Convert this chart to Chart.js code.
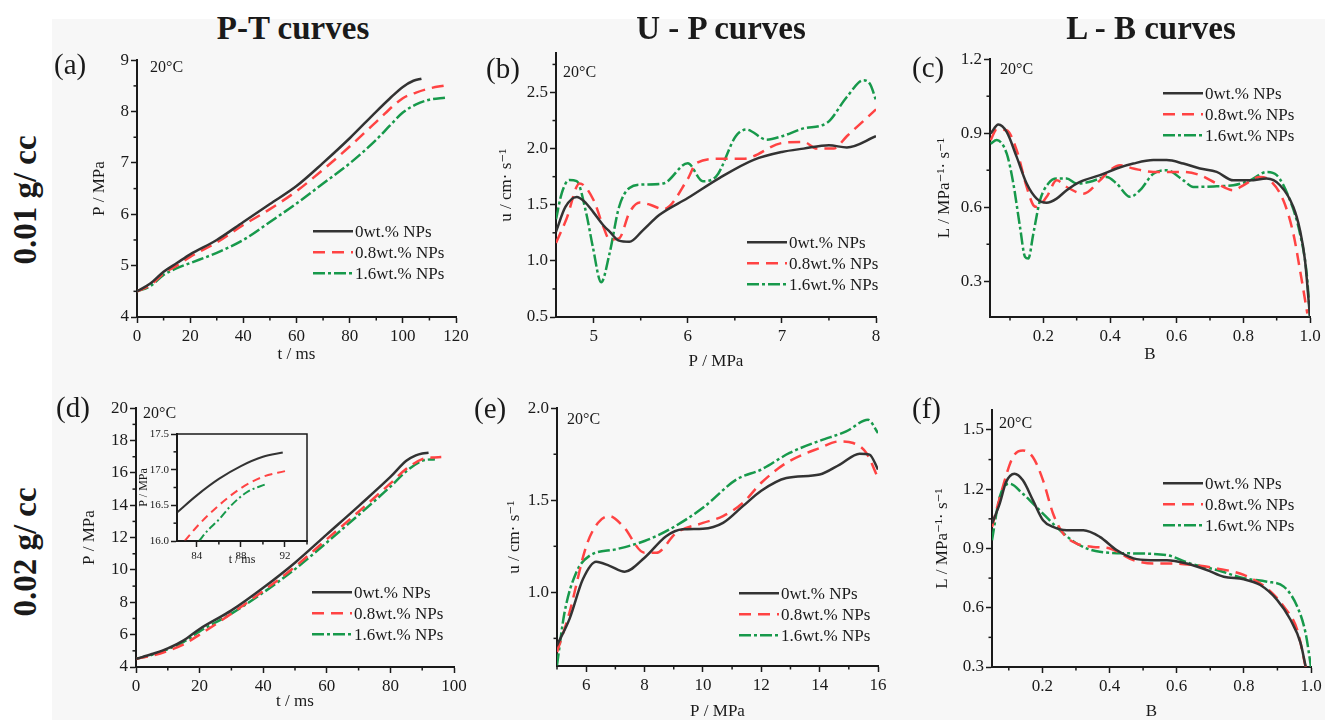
<!DOCTYPE html>
<html>
<head>
<meta charset="utf-8">
<script src="https://cdn.jsdelivr.net/npm/chart.js@4.4.1/dist/chart.umd.min.js"></script>
<style>
  body { margin: 0; width: 1325px; height: 720px; background: #fff; position: relative; overflow: hidden;
         font-family: 'Liberation Serif', serif; color: #1a1a1a; }
  .bg { position: absolute; left: 52px; top: 19px; right: 0; bottom: 0; background: #f7f7f7; }
  .t { position: absolute; white-space: nowrap; line-height: 1; z-index: 2; }
  .c { transform: translate(-50%, -50%); }
  .l { transform: translateY(-50%); }
  .big { font-size: 33px; font-weight: bold; }
  .pl { font-size: 29px; }
  .tc { font-size: 16px; }
  canvas { position: absolute; }
</style>
</head>
<body>
<div class="bg"></div>

<div class="t c big" style="left:293px;top:28px">P-T curves</div>
<div class="t c big" style="left:721px;top:28px">U - P curves</div>
<div class="t c big" style="left:1151px;top:28px">L - B curves</div>
<div class="t big" style="left:25px;top:200px;transform:translate(-50%,-50%) rotate(-90deg)">0.01 g/ cc</div>
<div class="t big" style="left:25px;top:552px;transform:translate(-50%,-50%) rotate(-90deg)">0.02 g/ cc</div>

<div class="t l pl" style="left:54px;top:64px">(a)</div>
<div class="t l pl" style="left:486px;top:68px">(b)</div>
<div class="t l pl" style="left:912px;top:67px">(c)</div>
<div class="t l pl" style="left:56px;top:407px">(d)</div>
<div class="t l pl" style="left:474px;top:408px">(e)</div>
<div class="t l pl" style="left:912px;top:408px">(f)</div>

<div class="t l tc" style="left:150px;top:67px">20°C</div>
<div class="t l tc" style="left:563px;top:72px">20°C</div>
<div class="t l tc" style="left:1000px;top:69px">20°C</div>
<div class="t l tc" style="left:143px;top:413px">20°C</div>
<div class="t l tc" style="left:567px;top:419px">20°C</div>
<div class="t l tc" style="left:999px;top:423px">20°C</div>

<script>
// -> Serien
const seriesNames = ['0wt.% NPs', '0.8wt.% NPs', '1.6wt.% NPs'];

// (a) P-T, 0.01 g/cc
const aT0 = [0, 5, 10, 15, 20, 30, 40, 50, 60, 70, 80, 90, 95, 100, 104, 107];
const aP0 = [4.5, 4.65, 4.88, 5.05, 5.22, 5.5, 5.85, 6.2, 6.55, 7.0, 7.48, 8.0, 8.25, 8.48, 8.6, 8.64];
const aT1 = [0, 5, 10, 15, 20, 30, 40, 50, 60, 70, 80, 90, 100, 105, 110, 116];
const aP1 = [4.5, 4.62, 4.85, 5.0, 5.17, 5.45, 5.79, 6.1, 6.45, 6.87, 7.32, 7.8, 8.26, 8.37, 8.45, 8.51];
const aT2 = [0, 5, 10, 15, 20, 30, 40, 50, 60, 70, 80, 90, 95, 100, 105, 110, 116];
const aP2 = [4.5, 4.6, 4.82, 4.95, 5.05, 5.25, 5.5, 5.85, 6.21, 6.6, 6.99, 7.45, 7.72, 7.98, 8.14, 8.23, 8.27];

// (b) U-P, 0.01 g/cc
const bP0 = [4.6, 4.7, 4.82, 4.9, 5.0, 5.1, 5.17, 5.27, 5.38, 5.52, 5.7, 6.0, 6.34, 6.7, 7.0, 7.23, 7.5, 7.69, 8.0];
const bU0 = [1.26, 1.48, 1.57, 1.53, 1.43, 1.32, 1.26, 1.18, 1.17, 1.27, 1.41, 1.56, 1.74, 1.9, 1.97, 2.0, 2.03, 2.01, 2.11];
const bP1 = [4.6, 4.71, 4.85, 5.0, 5.1, 5.17, 5.27, 5.38, 5.49, 5.6, 5.74, 6.0, 6.09, 6.34, 6.59, 7.0, 7.23, 7.37, 7.55, 7.69, 8.0];
const bU1 = [1.16, 1.37, 1.69, 1.54, 1.31, 1.19, 1.2, 1.43, 1.52, 1.5, 1.46, 1.73, 1.87, 1.91, 1.91, 2.05, 2.06, 2.0, 2.0, 2.11, 2.35];
const bP2 = [4.6, 4.66, 4.74, 4.82, 4.92, 4.99, 5.08, 5.17, 5.27, 5.38, 5.52, 5.74, 6.0, 6.16, 6.3, 6.51, 6.62, 6.84, 7.0, 7.23, 7.48, 7.69, 7.87, 7.94, 8.0];
const bU2 = [1.37, 1.6, 1.72, 1.71, 1.43, 1.13, 0.81, 1.07, 1.48, 1.65, 1.68, 1.69, 1.87, 1.71, 1.75, 2.11, 2.17, 2.08, 2.11, 2.18, 2.23, 2.46, 2.61, 2.57, 2.43];

// (c) L-B, 0.01 g/cc
const cB0 = [0.042, 0.065, 0.09, 0.12, 0.15, 0.18, 0.21, 0.24, 0.27, 0.31, 0.37, 0.42, 0.47, 0.53, 0.57, 0.62, 0.67, 0.72, 0.77, 0.82, 0.87, 0.91, 0.95, 0.97, 0.985, 1.0];
const cL0 = [0.899, 0.935, 0.905, 0.804, 0.696, 0.635, 0.618, 0.635, 0.669, 0.703, 0.73, 0.757, 0.777, 0.791, 0.791, 0.777, 0.757, 0.743, 0.709, 0.709, 0.716, 0.689, 0.601, 0.507, 0.385, 0.155];
const cB1 = [0.042, 0.06, 0.09, 0.12, 0.15, 0.17, 0.18, 0.21, 0.24, 0.27, 0.32, 0.37, 0.4, 0.43, 0.47, 0.53, 0.57, 0.62, 0.67, 0.72, 0.77, 0.8, 0.85, 0.88, 0.92, 0.95, 0.97, 0.992];
const cL1 = [0.872, 0.915, 0.912, 0.831, 0.682, 0.608, 0.601, 0.642, 0.709, 0.682, 0.655, 0.709, 0.75, 0.77, 0.757, 0.743, 0.743, 0.743, 0.73, 0.696, 0.669, 0.689, 0.723, 0.709, 0.628, 0.493, 0.345, 0.169];
const cB2 = [0.042, 0.06, 0.09, 0.11, 0.13, 0.145, 0.155, 0.17, 0.19, 0.215, 0.24, 0.27, 0.3, 0.34, 0.39, 0.42, 0.46, 0.49, 0.53, 0.57, 0.62, 0.65, 0.72, 0.77, 0.82, 0.87, 0.9, 0.94, 0.97, 0.99, 1.0];
const cL2 = [0.858, 0.872, 0.818, 0.696, 0.52, 0.399, 0.392, 0.493, 0.628, 0.696, 0.716, 0.716, 0.696, 0.703, 0.723, 0.696, 0.642, 0.669, 0.736, 0.75, 0.709, 0.682, 0.685, 0.689, 0.709, 0.743, 0.73, 0.628, 0.493, 0.331, 0.155];

// (d) P-T, 0.02 g/cc
const dT0 = [0, 5, 10, 15, 20, 30, 40, 50, 60, 70, 80, 85, 88, 90, 92];
const dP0 = [4.5, 4.8, 5.15, 5.65, 6.35, 7.5, 8.9, 10.45, 12.2, 13.95, 15.75, 16.75, 17.08, 17.2, 17.25];
const dT1 = [0, 5, 10, 15, 20, 30, 40, 50, 60, 70, 80, 85, 90, 93, 96];
const dP1 = [4.5, 4.7, 5.0, 5.4, 6.0, 7.3, 8.7, 10.2, 11.9, 13.6, 15.35, 16.25, 16.85, 16.95, 16.98];
const dT2 = [0, 5, 10, 15, 20, 30, 40, 50, 60, 70, 80, 85, 90, 94];
const dP2 = [4.5, 4.75, 5.1, 5.55, 6.2, 7.3, 8.6, 10.05, 11.7, 13.4, 15.15, 16.1, 16.75, 16.85];

// Inset (d)
const iT0 = [82.2, 84, 86, 88, 90, 91.8];
const iP0 = [16.4, 16.64, 16.87, 17.05, 17.18, 17.24];
const iT1 = [82.9, 84, 86, 88, 90, 92];
const iP1 = [16.0, 16.2, 16.5, 16.74, 16.9, 16.98];
const iT2 = [84.2, 85, 86, 87, 88.5, 90.3];
const iP2 = [16.0, 16.15, 16.3, 16.48, 16.68, 16.8];

// (e) U-P, 0.02 g/cc
const eP0 = [5.0, 5.43, 5.89, 6.34, 6.8, 7.32, 8.0, 8.74, 9.31, 10.0, 10.69, 11.37, 12.0, 12.86, 14.0, 14.69, 15.37, 15.71, 16.0];
const eU0 = [0.712, 0.856, 1.072, 1.166, 1.144, 1.112, 1.188, 1.305, 1.342, 1.345, 1.377, 1.468, 1.552, 1.621, 1.64, 1.694, 1.753, 1.748, 1.667];
const eP1 = [5.0, 5.43, 6.0, 6.4, 6.8, 7.26, 8.0, 8.4, 9.09, 10.0, 10.69, 11.37, 12.0, 12.86, 14.0, 14.69, 15.15, 15.6, 16.0];
const eU1 = [0.676, 0.892, 1.25, 1.377, 1.414, 1.36, 1.215, 1.215, 1.323, 1.377, 1.414, 1.486, 1.595, 1.703, 1.784, 1.82, 1.811, 1.757, 1.622];
const eP2 = [5.0, 5.26, 5.66, 6.11, 7.03, 8.0, 8.86, 10.0, 11.15, 12.0, 12.97, 14.0, 14.91, 15.66, 16.0];
const eU2 = [0.604, 0.892, 1.108, 1.198, 1.234, 1.279, 1.342, 1.459, 1.613, 1.667, 1.757, 1.823, 1.874, 1.937, 1.865];

// (f) L-B, 0.02 g/cc
const fB0 = [0.05, 0.073, 0.092, 0.117, 0.142, 0.172, 0.202, 0.232, 0.272, 0.322, 0.371, 0.421, 0.471, 0.521, 0.571, 0.63, 0.69, 0.74, 0.8, 0.849, 0.899, 0.939, 0.969, 0.984];
const fL0 = [1.026, 1.127, 1.236, 1.278, 1.245, 1.144, 1.043, 1.009, 0.992, 0.992, 0.959, 0.892, 0.85, 0.841, 0.841, 0.824, 0.791, 0.757, 0.744, 0.715, 0.64, 0.539, 0.421, 0.303];
const fB1 = [0.05, 0.082, 0.112, 0.142, 0.172, 0.202, 0.232, 0.262, 0.302, 0.351, 0.401, 0.471, 0.531, 0.59, 0.65, 0.72, 0.8, 0.869, 0.919, 0.959, 0.984];
const fL1 = [1.009, 1.211, 1.362, 1.396, 1.362, 1.245, 1.076, 0.976, 0.925, 0.908, 0.9, 0.841, 0.824, 0.824, 0.816, 0.799, 0.766, 0.698, 0.606, 0.488, 0.3];
const fB2 = [0.05, 0.073, 0.102, 0.142, 0.192, 0.242, 0.302, 0.371, 0.471, 0.571, 0.64, 0.72, 0.8, 0.869, 0.919, 0.959, 0.984, 1.0];
const fL2 = [0.942, 1.161, 1.228, 1.177, 1.093, 1.009, 0.925, 0.883, 0.875, 0.866, 0.824, 0.791, 0.749, 0.732, 0.707, 0.606, 0.471, 0.3];

// -> Tick-Beschriftungen
const aXLabels = ['0', '20', '40', '60', '80', '100', '120'];
const aYLabels = ['4', '5', '6', '7', '8', '9'];
const bXLabels = ['5', '6', '7', '8'];
const bYLabels = ['0.5', '1.0', '1.5', '2.0', '2.5'];
const cXLabels = ['0.2', '0.4', '0.6', '0.8', '1.0'];
const cYLabels = ['0.3', '0.6', '0.9', '1.2'];
const dXLabels = ['0', '20', '40', '60', '80', '100'];
const dYLabels = ['4', '6', '8', '10', '12', '14', '16', '18', '20'];
const iXLabels = ['84', '88', '92'];
const iYLabels = ['16.0', '16.5', '17.0', '17.5'];
const eXLabels = ['6', '8', '10', '12', '14', '16'];
const eYLabels = ['1.0', '1.5', '2.0'];
const fXLabels = ['0.2', '0.4', '0.6', '0.8', '1.0'];
const fYLabels = ['0.3', '0.6', '0.9', '1.2', '1.5'];

// -> Styles
const seriesColors = ['#333333', '#ff4343', '#17994b'];
const INK = '#1a1a1a';

Chart.defaults.font.family = "'Liberation Serif', 'DejaVu Serif', serif";
Chart.defaults.color = INK;
Chart.defaults.animation = false;

// Haupt- und Zwischenticks (Zwischenticks ohne Label)
function buildTicks(labels, min, max) {
  const vals = labels.map(Number);
  const step = (vals[1] - vals[0]) / 2;
  const out = [];
  const k0 = Math.ceil((min - vals[0]) / step - 1e-6);
  for (let k = k0; vals[0] + k * step <= max + 1e-6; k++) {
    const v = +(vals[0] + k * step).toFixed(6);
    const j = vals.findIndex(u => Math.abs(u - v) < 1e-6);
    out.push({ value: v, minor: j < 0, text: j < 0 ? '' : labels[j] });
  }
  return out;
}

const minorTicks = {
  id: 'minorTicks',
  afterDraw(chart) {
    const ctx = chart.ctx;
    ctx.save();
    ctx.strokeStyle = INK;
    ctx.lineWidth = 1.5;
    ['x', 'y'].forEach(id => {
      const sc = chart.scales[id];
      sc.ticks.filter(t => t.minor).forEach(t => {
        const p = sc.getPixelForValue(t.value);
        ctx.beginPath();
        if (id === 'x') { ctx.moveTo(p, sc.top); ctx.lineTo(p, sc.top + 3.5); }
        else { ctx.moveTo(sc.right, p); ctx.lineTo(sc.right - 3.5, p); }
        ctx.stroke();
      });
    });
    ctx.restore();
  }
};

// Legende im Plotbereich
const innerLegend = {
  id: 'innerLegend',
  afterDraw(chart, args, opts) {
    if (!opts.show) return;
    const { ctx, chartArea } = chart;
    ctx.save();
    ctx.font = opts.size + "px 'Liberation Serif', serif";
    ctx.textBaseline = 'middle';
    chart.data.datasets.forEach((ds, i) => {
      const x = chartArea.left + opts.left;
      const y = chartArea.top + opts.top + i * opts.gap;
      ctx.strokeStyle = ds.borderColor;
      ctx.lineWidth = ds.borderWidth;
      ctx.setLineDash(ds.borderDash || []);
      ctx.beginPath();
      ctx.moveTo(x, y);
      ctx.lineTo(x + 40, y);
      ctx.stroke();
      ctx.setLineDash([]);
      ctx.fillStyle = INK;
      ctx.fillText(ds.label, x + 42, y + 1);
    });
    ctx.restore();
  }
};

// Rahmen fürs Inset
const frame = {
  id: 'frame',
  afterDraw(chart, args, opts) {
    if (!opts.show) return;
    const { ctx, chartArea: a } = chart;
    ctx.save();
    ctx.strokeStyle = INK;
    ctx.lineWidth = 1.5;
    ctx.strokeRect(a.left, a.top, a.right - a.left, a.bottom - a.top);
    ctx.restore();
  }
};

function axis(s, pos, size, fsz, tsz, pad) {
  return {
    type: 'linear',
    position: pos,
    min: s.min,
    max: s.max,
    afterBuildTicks: sc => { sc.ticks = buildTicks(s.labels, s.min, s.max); },
    afterFit: sc => { if (pos === 'left') sc.width = size; else sc.height = size; },
    border: { display: true, color: INK, width: 2 },
    grid: {
      display: true, drawOnChartArea: false, drawTicks: true, tickLength: 6, tickWidth: 1.5,
      tickColor: c => (c.tick && c.tick.minor) ? 'rgba(0,0,0,0)' : INK
    },
    ticks: {
      autoSkip: false, maxRotation: 0, padding: pos === 'left' ? 2 : 3, color: INK,
      font: { size: fsz },
      callback: (v, i, t) => t[i].text
    },
    title: {
      display: true, text: s.title, color: INK,
      font: { size: tsz },
      padding: pos === 'left' ? { top: pad, bottom: 0 } : { top: 0, bottom: pad }
    }
  };
}

function makePanel(p) {
  const W = p.W || 80, H = p.H || 60, T = 12, R = 24;
  const fsz = p.fsz || 17, tsz = p.tsz || 17;
  const [l, r, t, b] = p.box;
  const cv = document.createElement('canvas');
  cv.width = r - l + W + R;
  cv.height = b - t + T + H;
  cv.style.left = (l - W) + 'px';
  cv.style.top = (t - T) + 'px';
  document.body.appendChild(cv);

  const lh = tsz * 1.2;
  const padY = Math.max(0, p.y.titleX - (l - W) - lh / 2);
  const padX = Math.max(0, b + H - p.x.titleY - lh / 2);
  const lw = p.lw || 2.5;
  const dashes = p.small ? [[], [8, 5], [8, 3, 2, 3]] : [[], [12, 7], [12, 3, 3, 3]];

  new Chart(cv, {
    type: 'line',
    data: {
      datasets: p.series.map((s, i) => ({
        label: seriesNames[i],
        data: s[0].map((x, k) => ({ x: x, y: s[1][k] })),
        borderColor: seriesColors[i],
        borderWidth: lw,
        borderDash: dashes[i],
        pointRadius: 0,
        cubicInterpolationMode: 'monotone',
        fill: false
      }))
    },
    options: {
      responsive: false,
      layout: { padding: { left: 0, top: T, right: R, bottom: 0 } },
      plugins: {
        legend: { display: false },
        tooltip: { enabled: false },
        innerLegend: p.legend ? Object.assign({ show: true, gap: 21, size: 17 }, p.legend) : { show: false },
        frame: { show: !!p.small }
      },
      scales: {
        x: axis(p.x, 'bottom', H, fsz, tsz, padX),
        y: axis(p.y, 'left', W, fsz, tsz, padY)
      }
    },
    plugins: [minorTicks, innerLegend, frame]
  });
}

const panels = [
  { box: [137, 456, 60, 317],
    x: { min: 0, max: 120, labels: aXLabels, title: 't / ms', titleY: 355 },
    y: { min: 4, max: 9, labels: aYLabels, title: 'P / MPa', titleX: 100 },
    series: [[aT0, aP0], [aT1, aP1], [aT2, aP2]], legend: { left: 176, top: 171 } },
  { box: [556, 876, 53, 317],
    x: { min: 4.6, max: 8, labels: bXLabels, title: 'P / MPa', titleY: 362 },
    y: { min: 0.5, max: 2.85, labels: bYLabels, title: 'u / cm· s⁻¹', titleX: 507 },
    series: [[bP0, bU0], [bP1, bU1], [bP2, bU2]], legend: { left: 191, top: 189 } },
  { box: [990, 1310, 59, 317],
    x: { min: 0.04, max: 1.0, labels: cXLabels, title: 'B', titleY: 355 },
    y: { min: 0.155, max: 1.2, labels: cYLabels, title: 'L / MPa⁻¹· s⁻¹', titleX: 945 },
    series: [[cB0, cL0], [cB1, cL1], [cB2, cL2]], legend: { left: 173, top: 34 } },
  { box: [136, 454, 408, 667],
    x: { min: 0, max: 100, labels: dXLabels, title: 't / ms', titleY: 702 },
    y: { min: 4, max: 20, labels: dYLabels, title: 'P / MPa', titleX: 90 },
    series: [[dT0, dP0], [dT1, dP1], [dT2, dP2]], legend: { left: 176, top: 184 } },
  { box: [177, 307, 434, 541], W: 50, H: 28, fsz: 11, tsz: 12, lw: 2, small: true,
    x: { min: 82.2, max: 94, labels: iXLabels, title: 't / ms', titleY: 560 },
    y: { min: 16, max: 17.5, labels: iYLabels, title: 'P / MPa', titleX: 144 },
    series: [[iT0, iP0], [iT1, iP1], [iT2, iP2]] },
  { box: [557, 878, 408, 666],
    x: { min: 5, max: 16, labels: eXLabels, title: 'P / MPa', titleY: 712 },
    y: { min: 0.6, max: 2.0, labels: eYLabels, title: 'u / cm· s⁻¹', titleX: 515 },
    series: [[eP0, eU0], [eP1, eU1], [eP2, eU2]], legend: { left: 182, top: 185 } },
  { box: [992, 1311, 410, 667],
    x: { min: 0.05, max: 1.0, labels: fXLabels, title: 'B', titleY: 712 },
    y: { min: 0.3, max: 1.6, labels: fYLabels, title: 'L / MPa⁻¹· s⁻¹', titleX: 943 },
    series: [[fB0, fL0], [fB1, fL1], [fB2, fL2]], legend: { left: 171, top: 73 } }
];

panels.forEach(makePanel);
</script>
</body>
</html>
